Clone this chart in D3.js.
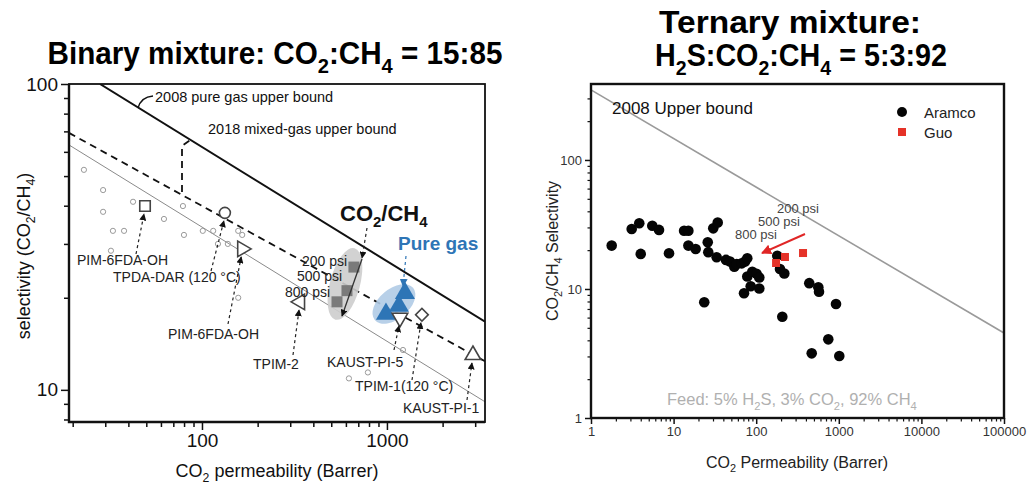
<!DOCTYPE html>
<html>
<head>
<meta charset="utf-8">
<script src="https://cdn.jsdelivr.net/npm/d3@7"></script>
<style>
body{margin:0;background:#fff;}
svg text{font-family:"Liberation Sans",Arial,Helvetica,sans-serif;}
</style>
</head>
<body>
<svg id="fig" width="1031" height="488"></svg>
<script>
// ---------- left panel (binary CO2:CH4 = 15:85) ----------
var litPerm = [23.0,29.2,29.2,42.4,62.3,33.0,37.9,78.9,79.9,101,115,122,138,157,165,32.2,157,1221,789,623];
var litSel  = [52.4,45.0,38.2,41.2,36.2,33.1,33.1,39.9,32.1,33.1,33.1,30.0,30.0,33.1,32.1,28.5,20.0,13.5,11.4,10.9];

var mixNames  = ["PIM-6FDA-OH","TPDA-DAR (120 °C)","PIM-6FDA-OH","TPIM-2","KAUST-PI-5","TPIM-1(120 °C)","KAUST-PI-1"];
var mixShapes = ["square","circle","triRight","triLeft","triDown","diamond","triUp"];
var mixPerm   = [49.2,133,165,339,1176,1546,2917];
var mixSel    = [39.9,37.9,28.9,19.4,17.2,17.6,13.0];

var psiLabels = ["200 psi","500 psi","800 psi"];
var psiPerm   = [663,608,537];
var psiSel    = [25.2,21.1,19.4];
var pureGasPerm = [1251,1161,988];
var pureGasSel  = [20.7,18.8,17.7];

var bound2008Perm = [28.1,3390];
var bound2008Sel  = [100,16.7];
var bound2018Perm = [19.1,3390];
var bound2018Sel  = [69.2,12.4];
var bound1991Perm = [19.1,3390];
var bound1991Sel  = [63.2,9.14];

var leftXMajor = [100,1000];
var leftYMajor = [10,100];

// ---------- right panel (ternary H2S:CO2:CH4 = 5:3:92) ----------
var aramcoPerm = [1.78,3.11,3.84,4.00,5.52,6.66,8.80,13.4,15.1,15.1,18.5,23.5,25.9,26.3,30.2,34.2,33.2,43.1,48.2,54.3,58.1,66.8,73.2,78.0,78.0,89.7,101,109,85.8,109,71.2,180,194,219,207,439,565,576,925,746,470,1014];
var aramcoSel  = [21.7,29.2,32.3,18.7,30.9,28.7,18.9,28.3,28.3,21.7,20.4,7.89,23.0,19.3,29.5,32.7,17.6,16.8,16.3,14.9,15.6,15.8,16.3,17.3,12.5,13.6,13.1,12.3,10.5,10.1,9.26,18.1,14.3,13.2,6.10,11.1,10.3,9.53,7.65,4.07,3.17,3.02];
var guoPerm = [369,223,174];
var guoSel  = [19.0,17.7,15.9];
var ub2008Perm = [1,100000];
var ub2008Sel  = [349,4.56];

var rightXMajor = [1,10,100,1000,10000,100000];
var rightYMajor = [1,10,100];
var legendNames = ["Aramco","Guo"];

var svg = d3.select("#fig");
var NARROW = '"Liberation Sans Narrow","Arial Narrow","Liberation Sans",Arial,sans-serif';
var defs = svg.append("defs");

function arrowMarker(id, color, w){
    defs.append("marker")
        .attr("id", id)
        .attr("viewBox","0 0 10 10")
        .attr("refX",9).attr("refY",5)
        .attr("markerWidth",w).attr("markerHeight",w)
        .attr("markerUnits","userSpaceOnUse")
        .attr("orient","auto")
        .append("path")
        .attr("d","M0,0L10,5L0,10z")
        .attr("fill",color);
}
arrowMarker("ahK","#111",7);
arrowMarker("ahB","#2e75b6",8);
arrowMarker("ahR","#e02626",10);

// text with subscripts: parts = [[str, isSub], ...]
function rich(text, parts, size){
    var down = false;
    parts.forEach(function(p){
        var ts = text.append("tspan").text(p[0]);
        if (p[1]) {
            ts.attr("font-size", size*0.68);
            if (!down) { ts.attr("dy", size*0.28); down = true; }
        } else if (down) {
            ts.attr("dy", -size*0.28); down = false;
        }
    });
    return text;
}

// squeeze a title to the width it has in the picture
function fitWidth(t, cx, y, w){
    var len = t.node().getComputedTextLength();
    t.attr("x",0).attr("y",0).attr("text-anchor","middle")
        .attr("transform","translate("+cx+","+y+") scale("+(w/len)+",1)");
}

function minors(lo, hi){
    var out = [];
    for (var e = Math.floor(Math.log10(lo)); e <= Math.ceil(Math.log10(hi)); e++) {
        for (var m = 2; m <= 9; m++) {
            var v = m*Math.pow(10,e);
            if (v >= lo && v <= hi) out.push(v);
        }
    }
    return out;
}

function drawAxis(g, axis, ticks, size, fmt, fs, col, sw){
    var a = g.append("g").call(axis.tickValues(ticks).tickSize(size).tickFormat(fmt));
    a.select(".domain").remove();
    a.selectAll("line").attr("stroke","#111").attr("stroke-width",sw);
    a.selectAll("text").attr("font-size",fs).attr("fill",col)
        .attr("font-family",'"Liberation Sans",Arial,sans-serif');
    return a;
}

// ================= LEFT PANEL =================
var xL = d3.scaleLog().domain([19.1,3390]).range([69,485]);
var yL = d3.scaleLog().domain([7.85,100]).range([422,84]);

var gL = svg.append("g");
defs.append("clipPath").attr("id","clipL").append("rect")
    .attr("x",69).attr("y",84).attr("width",416).attr("height",338);

var lineL = d3.line().x(function(d){return xL(d[0]);}).y(function(d){return yL(d[1]);});
var plotL = gL.append("g").attr("clip-path","url(#clipL)");

plotL.append("path").datum(d3.zip(bound1991Perm,bound1991Sel))
    .attr("d",lineL).attr("fill","none").attr("stroke","#8a8a8a").attr("stroke-width",1);
plotL.append("path").datum(d3.zip(bound2018Perm,bound2018Sel))
    .attr("d",lineL).attr("fill","none").attr("stroke","#111").attr("stroke-width",1.8)
    .attr("stroke-dasharray","7,5");
plotL.append("path").datum(d3.zip(bound2008Perm,bound2008Sel))
    .attr("d",lineL).attr("fill","none").attr("stroke","#111").attr("stroke-width",2);

// literature points
plotL.selectAll("circle.lit").data(d3.zip(litPerm,litSel)).enter()
    .append("circle").attr("class","lit")
    .attr("cx",function(d){return xL(d[0]);})
    .attr("cy",function(d){return yL(d[1]);})
    .attr("r",2.6).attr("fill","none").attr("stroke","#9a9a9a").attr("stroke-width",1);

// highlighted ellipses
plotL.append("ellipse")
    .attr("transform","translate("+xL(593)+","+yL(22.2)+") rotate(15)")
    .attr("rx",15).attr("ry",37).attr("fill","#cdcdcd").attr("opacity",0.9);
plotL.append("ellipse")
    .attr("transform","translate("+xL(1091)+","+yL(19.1)+") rotate(-40)")
    .attr("rx",25).attr("ry",15).attr("fill","#b0cbe6").attr("opacity",0.9);

// mixed-gas squares
plotL.selectAll("rect.psi").data(d3.zip(psiPerm,psiSel)).enter()
    .append("rect").attr("class","psi")
    .attr("x",function(d){return xL(d[0])-5.5;})
    .attr("y",function(d){return yL(d[1])-5.5;})
    .attr("width",11).attr("height",11).attr("fill","#7a7a7a");
plotL.append("line").attr("x1",362).attr("y1",259).attr("x2",342).attr("y2",316)
    .attr("stroke","#333").attr("stroke-width",1.3).attr("marker-end","url(#ahK)");

// pure gas triangles
plotL.selectAll("path.pure").data(d3.zip(pureGasPerm,pureGasSel)).enter()
    .append("path").attr("class","pure")
    .attr("d",d3.symbol().type(d3.symbolTriangle).size(175))
    .attr("transform",function(d){return "translate("+xL(d[0])+","+yL(d[1])+")";})
    .attr("fill","#2e75b6");

// open markers of other membranes
var shapeOf = {
    square:  {t:d3.symbolSquare,   s:110, r:0},
    circle:  {t:d3.symbolCircle,   s:95,  r:0},
    triRight:{t:d3.symbolTriangle, s:105, r:90},
    triLeft: {t:d3.symbolTriangle, s:105, r:-90},
    triDown: {t:d3.symbolTriangle, s:105, r:180},
    diamond: {t:d3.symbolSquare,   s:80,  r:45},
    triUp:   {t:d3.symbolTriangle, s:105, r:0}
};
gL.selectAll("path.mix").data(mixShapes).enter()
    .append("path").attr("class","mix")
    .attr("d",function(s){return d3.symbol().type(shapeOf[s].t).size(shapeOf[s].s)();})
    .attr("transform",function(s,i){
        return "translate("+xL(mixPerm[i])+","+yL(mixSel[i])+") rotate("+shapeOf[s].r+")";
    })
    .attr("fill","#fff").attr("stroke","#444").attr("stroke-width",1.6);

// labels of membranes with dashed arrows
var mixLabelXY = [[77,265],[113,282],[168,339],[253,369],[327,367],[355,391],[403,413]];
var mixTail = [[136,254],[211,271],[228,324],[293,355],[394,350],[412,380],[467,400]];
mixNames.forEach(function(n,i){
    gL.append("text").attr("x",mixLabelXY[i][0]).attr("y",mixLabelXY[i][1])
        .attr("font-size",14).attr("fill","#222").text(n);
    gL.append("line")
        .attr("x1",mixTail[i][0]).attr("y1",mixTail[i][1])
        .attr("x2",xL(mixPerm[i])-1).attr("y2",yL(mixSel[i])+8)
        .attr("stroke","#222").attr("stroke-width",1.2).attr("stroke-dasharray","3,3")
        .attr("marker-end","url(#ahK)");
});

// psi labels
var psiLabelXY = [[302,266],[297,281],[285,297]];
psiLabels.forEach(function(n,i){
    gL.append("text").attr("x",psiLabelXY[i][0]).attr("y",psiLabelXY[i][1])
        .attr("font-size",14).attr("fill","#222").text(n);
});

// CO2/CH4 and Pure gas
rich(gL.append("text").attr("x",340).attr("y",221).attr("font-size",22)
    .attr("font-weight","bold").attr("fill","#111"),
    [["CO",0],["2",1],["/CH",0],["4",1]], 22);
gL.append("line").attr("x1",367).attr("y1",228).attr("x2",362).attr("y2",258)
    .attr("stroke","#222").attr("stroke-width",1.2).attr("stroke-dasharray","3,3")
    .attr("marker-end","url(#ahK)");
gL.append("text").attr("x",398).attr("y",250).attr("font-size",19)
    .attr("font-weight","bold").attr("fill","#2e75b6").text("Pure gas");
gL.append("line").attr("x1",406).attr("y1",256).attr("x2",403).attr("y2",286)
    .attr("stroke","#2e75b6").attr("stroke-width",1.2).attr("stroke-dasharray","3,3")
    .attr("marker-end","url(#ahB)");

// upper bound labels
gL.append("text").attr("x",155).attr("y",102).attr("font-size",14.5).attr("fill","#111")
    .text("2008 pure gas upper bound");
gL.append("path").attr("d","M138,108 Q141,97 153,96").attr("fill","none")
    .attr("stroke","#111").attr("stroke-width",1.4);
gL.append("text").attr("x",208).attr("y",134).attr("font-size",14.5).attr("fill","#111")
    .text("2018 mixed-gas upper bound");
gL.append("path").attr("d","M182,192 L182,146 L193,138").attr("fill","none")
    .attr("stroke","#111").attr("stroke-width",1.8).attr("stroke-dasharray","7,5");

// axes
drawAxis(gL.append("g").attr("transform","translate(0,422)"), d3.axisBottom(xL),
    leftXMajor, 8, d3.format("d"), 19, "#111", 1.5).selectAll("text").attr("dy","0.75em");
drawAxis(gL.append("g").attr("transform","translate(0,422)"), d3.axisBottom(xL),
    minors(19.1,3390), 5, "", 0, "#111", 1.5);
drawAxis(gL.append("g").attr("transform","translate(69,0)"), d3.axisLeft(yL),
    leftYMajor, 8, d3.format("d"), 19, "#111", 1.5);
drawAxis(gL.append("g").attr("transform","translate(69,0)"), d3.axisLeft(yL),
    minors(7.85,100), 5, "", 0, "#111", 1.5);
gL.append("rect").attr("x",69).attr("y",84).attr("width",416).attr("height",338)
    .attr("fill","none").attr("stroke","#111").attr("stroke-width",1.8);
gL.append("path").attr("d","M69,84 L69,422 L485,422").attr("fill","none")
    .attr("stroke","#111").attr("stroke-width",2.4);

rich(gL.append("text").attr("x",277).attr("y",477).attr("text-anchor","middle")
    .attr("font-size",18).attr("fill","#111"),
    [["CO",0],["2",1],[" permeability (Barrer)",0]], 18);
rich(gL.append("text").attr("transform","translate(30,256) rotate(-90)")
    .attr("text-anchor","middle").attr("font-size",18).attr("fill","#111"),
    [["selectivity (CO",0],["2",1],["/CH",0],["4",1],[")",0]], 18);

// ================= RIGHT PANEL =================
var xR = d3.scaleLog().domain([1,100000]).range([591,1004]);
var yR = d3.scaleLog().domain([1,388]).range([418,84]);
var gR = svg.append("g");
defs.append("clipPath").attr("id","clipR").append("rect")
    .attr("x",591).attr("y",84).attr("width",413).attr("height",334);
var plotR = gR.append("g").attr("clip-path","url(#clipR)");
var lineR = d3.line().x(function(d){return xR(d[0]);}).y(function(d){return yR(d[1]);});

plotR.append("path").datum(d3.zip(ub2008Perm,ub2008Sel)).attr("d",lineR)
    .attr("fill","none").attr("stroke","#9a9a9a").attr("stroke-width",1.6);

plotR.selectAll("circle.aramco").data(d3.zip(aramcoPerm,aramcoSel)).enter()
    .append("circle").attr("class","aramco")
    .attr("cx",function(d){return xR(d[0]);})
    .attr("cy",function(d){return yR(d[1]);})
    .attr("r",5.3).attr("fill","#050505");
plotR.selectAll("rect.guo").data(d3.zip(guoPerm,guoSel)).enter()
    .append("rect").attr("class","guo")
    .attr("x",function(d){return xR(d[0])-4;})
    .attr("y",function(d){return yR(d[1])-4;})
    .attr("width",8).attr("height",8).attr("fill","#e53228");

gR.append("line").attr("x1",805).attr("y1",234).attr("x2",762).attr("y2",253)
    .attr("stroke","#e02626").attr("stroke-width",2).attr("marker-end","url(#ahR)");
var psiRXY = [[777,213],[758,226],[735,239]];
psiLabels.forEach(function(n,i){
    gR.append("text").attr("x",psiRXY[i][0]).attr("y",psiRXY[i][1])
        .attr("font-size",13).attr("fill","#444").text(n);
});

gR.append("text").attr("x",612).attr("y",114).attr("font-size",17).attr("fill","#111")
    .text("2008 Upper bound");

// legend
gR.append("circle").attr("cx",902).attr("cy",112).attr("r",5).attr("fill","#050505");
gR.append("rect").attr("x",898).attr("y",128).attr("width",8).attr("height",8).attr("fill","#e53228");
legendNames.forEach(function(n,i){
    gR.append("text").attr("x",924).attr("y",118+i*20).attr("font-size",15)
        .attr("fill","#222").text(n);
});

rich(gR.append("text").attr("x",667).attr("y",405).attr("font-size",16.5).attr("fill","#b0b0b0"),
    [["Feed: 5% H",0],["2",1],["S, 3% CO",0],["2",1],[", 92% CH",0],["4",1]], 16.5);

drawAxis(gR.append("g").attr("transform","translate(0,418)"), d3.axisBottom(xR),
    rightXMajor, 6, d3.format("d"), 13, "#333", 1.5);
drawAxis(gR.append("g").attr("transform","translate(0,418)"), d3.axisBottom(xR),
    minors(1,100000), 3.5, "", 0, "#333", 1.2);
drawAxis(gR.append("g").attr("transform","translate(591,0)"), d3.axisLeft(yR),
    rightYMajor, 6, d3.format("d"), 13, "#333", 1.5);
drawAxis(gR.append("g").attr("transform","translate(591,0)"), d3.axisLeft(yR),
    minors(1,388), 3.5, "", 0, "#333", 1.2);
gR.append("rect").attr("x",591).attr("y",84).attr("width",413).attr("height",334)
    .attr("fill","none").attr("stroke","#111").attr("stroke-width",2.4);

rich(gR.append("text").attr("x",797).attr("y",468).attr("text-anchor","middle")
    .attr("font-size",16).attr("fill","#222"),
    [["CO",0],["2",1],[" Permeability (Barrer)",0]], 16);
rich(gR.append("text").attr("transform","translate(558,251) rotate(-90)")
    .attr("text-anchor","middle").attr("font-size",16).attr("fill","#222"),
    [["CO",0],["2",1],["/CH",0],["4",1],[" Selectivity",0]], 16);

// ================= TITLES =================
function title(parts, cx, y, w){
    var t = svg.append("text").attr("font-size",31).attr("font-weight","bold")
        .attr("fill","#000").style("font-family",NARROW);
    rich(t, parts, 31);
    fitWidth(t, cx, y, w);
}
title([["Binary mixture: CO",0],["2",1],[":CH",0],["4",1],[" = 15:85",0]], 275, 64, 455);
title([["Ternary mixture:",0]], 790, 33, 262);
title([["H",0],["2",1],["S:CO",0],["2",1],[":CH",0],["4",1],[" = 5:3:92",0]], 801, 66, 292);
</script>
</body>
</html>
